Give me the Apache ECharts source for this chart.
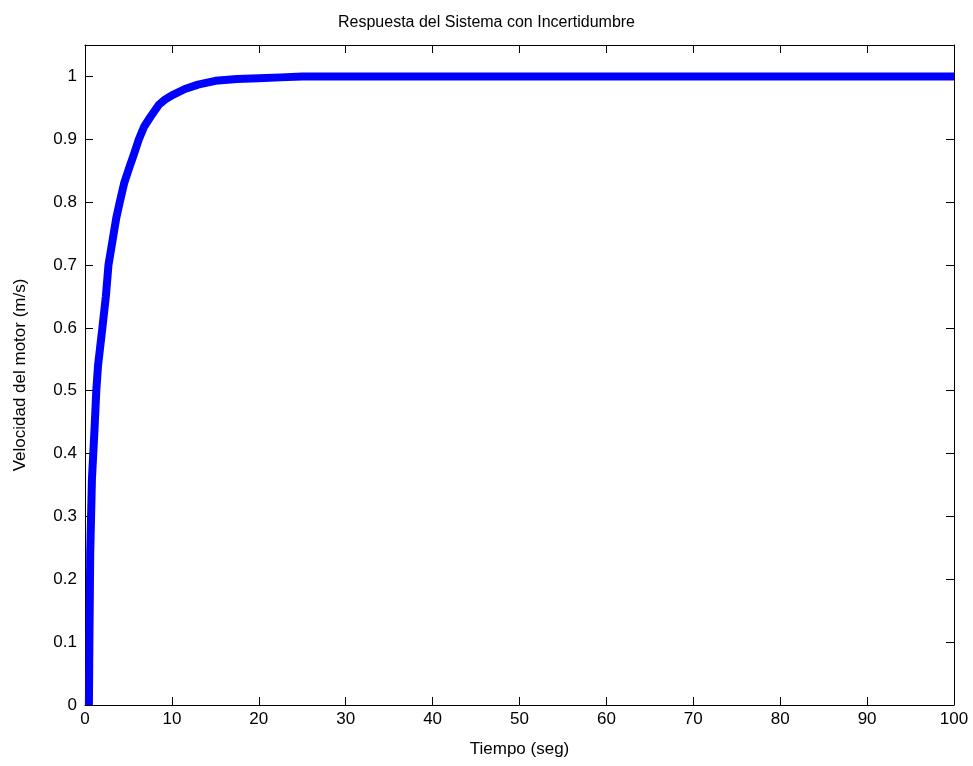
<!DOCTYPE html>
<html>
<head>
<meta charset="utf-8">
<script src="https://cdn.jsdelivr.net/npm/echarts@6/dist/echarts.min.js"></script>
<style>
  html, body { margin: 0; padding: 0; background: #fff; }
  #main { width: 973px; height: 766px; }
</style>
</head>
<body>
<div id="main"></div>
<script>
// values
var tiempo = [0.45, 0.5, 0.6, 0.8, 1.1, 1.3, 1.5, 2.0, 2.4, 2.7, 3.0, 3.6, 4.0, 4.5, 5.1, 5.6, 6.2, 6.8, 7.5, 8.5, 9.2, 10, 11.5, 13, 15, 17.5, 20, 22.5, 25, 100];
var velocidad = [0, 0.09, 0.24, 0.36, 0.44, 0.5, 0.54, 0.6, 0.65, 0.7, 0.725, 0.775, 0.8, 0.83, 0.855, 0.875, 0.9, 0.92, 0.935, 0.955, 0.963, 0.97, 0.98, 0.987, 0.993, 0.996, 0.997, 0.9985, 1, 1];

var puntos = tiempo.map(function (t, i) { return [t, velocidad[i]]; });

var fuente = "Liberation Sans";
var negro = "#000";

function ejeBase(extra) {
  var base = {
    axisLine: { show: true, onZero: false, lineStyle: { color: negro, width: 1 } },
    axisTick: { show: true, inside: true, length: 8, lineStyle: { color: negro } },
    splitLine: { show: false },
    axisLabel: { color: "#000", fontFamily: fuente, fontSize: 16 }
  };
  for (var k in extra) base[k] = extra[k];
  return base;
}

var myChart = echarts.init(document.getElementById("main"));
myChart.setOption({
  backgroundColor: "#fff",
  animation: false,
  title: {
    text: "Respuesta del Sistema con Incertidumbre",
    left: "center",
    top: 10,
    textStyle: { fontFamily: fuente, fontSize: 16, fontWeight: "normal", color: "#000" }
  },
  grid: { left: 85, right: 19, top: 45, bottom: 61 },
  xAxis: [
    ejeBase({
      type: "value", min: 0, max: 100, interval: 10, position: "bottom",
      name: "Tiempo (seg)", nameLocation: "middle", nameGap: 36,
      nameTextStyle: { fontFamily: fuente, fontSize: 17, color: "#000" },
      axisLabel: { color: "#000", fontFamily: fuente, fontSize: 17, margin: 6 }
    }),
    ejeBase({
      type: "value", min: 0, max: 100, interval: 10, position: "top",
      axisLabel: { show: false }
    })
  ],
  yAxis: [
    ejeBase({
      type: "value", min: 0, max: 1.05, interval: 0.1, position: "left",
      name: "Velocidad del motor (m/s)", nameLocation: "middle", nameGap: 56,
      nameTextStyle: { fontFamily: fuente, fontSize: 17, color: "#000" },
      axisLabel: { color: "#000", fontFamily: fuente, fontSize: 17, margin: 8, showMaxLabel: false }
    }),
    ejeBase({
      type: "value", min: 0, max: 1.05, interval: 0.1, position: "right",
      axisLabel: { show: false }
    })
  ],
  series: [
    {
      type: "line",
      data: puntos,
      showSymbol: false,
      lineStyle: { color: "#0000ff", width: 8, join: "round" },
      itemStyle: { color: "#0000ff" }
    }
  ]
});
</script>
</body>
</html>
